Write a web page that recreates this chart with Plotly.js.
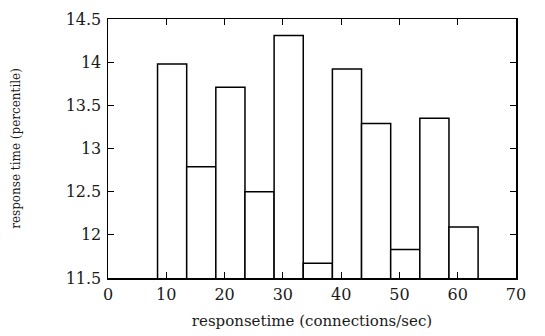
<!DOCTYPE html>
<html>
<head>
<meta charset="utf-8">
<script src="https://cdn.plot.ly/plotly-3.0.1.min.js"></script>
<style>html,body{margin:0;padding:0;background:#fff;}#chart{width:545px;height:336px;}</style>
</head>
<body>
<div id="chart"></div>
<script>
// Data
const connections = [11, 16, 21, 26, 31, 36, 41, 46, 51, 56, 61];
const responseTimes = [13.98, 12.79, 13.71, 12.50, 14.31, 11.67, 13.92, 13.29, 11.83, 13.35, 12.09];
const xTickValues = [0, 10, 20, 30, 40, 50, 60, 70];
const yTickValues = [11.5, 12, 12.5, 13, 13.5, 14, 14.5];
const xTitle = "responsetime (connections/sec)";
const yTitle = "response time (percentile)";

const trace = {
  type: "bar",
  x: connections,
  y: responseTimes,
  width: 5,
  marker: {color: "#ffffff", line: {color: "#000000", width: 1.5}},
  hoverinfo: "x+y"
};

const serif = "DejaVu Serif, serif";
const tickFont = {family: serif, size: 16, color: "#1a1a1a"};

const layout = {
  width: 545, height: 336,
  margin: {l: 108, r: 29, t: 19, b: 58, pad: 0},
  paper_bgcolor: "#ffffff", plot_bgcolor: "#ffffff",
  showlegend: false,
  xaxis: {
    range: [0, 70], tickmode: "array", tickvals: xTickValues,
    ticks: "inside", ticklen: 6, tickwidth: 1.2, tickcolor: "#000",
    showline: true, linecolor: "#000", linewidth: 1.5, mirror: "allticks",
    showgrid: false, zeroline: false, tickfont: tickFont, ticklabelstandoff: 1,
    title: {text: xTitle, font: {family: serif, size: 15, color: "#1a1a1a"}, standoff: 13}
  },
  yaxis: {
    range: [11.5, 14.5], tickmode: "array", tickvals: yTickValues,
    ticks: "inside", ticklen: 6, tickwidth: 1.2, tickcolor: "#000",
    showline: true, linecolor: "#000", linewidth: 1.5, mirror: "allticks",
    showgrid: false, zeroline: false, tickfont: tickFont, ticklabelstandoff: 2,
    title: {text: yTitle, font: {family: serif, size: 12, color: "#1a1a1a"}, standoff: 42}
  }
};

Plotly.newPlot("chart", [trace], layout, {displayModeBar: false, staticPlot: true});
</script>
</body>
</html>
